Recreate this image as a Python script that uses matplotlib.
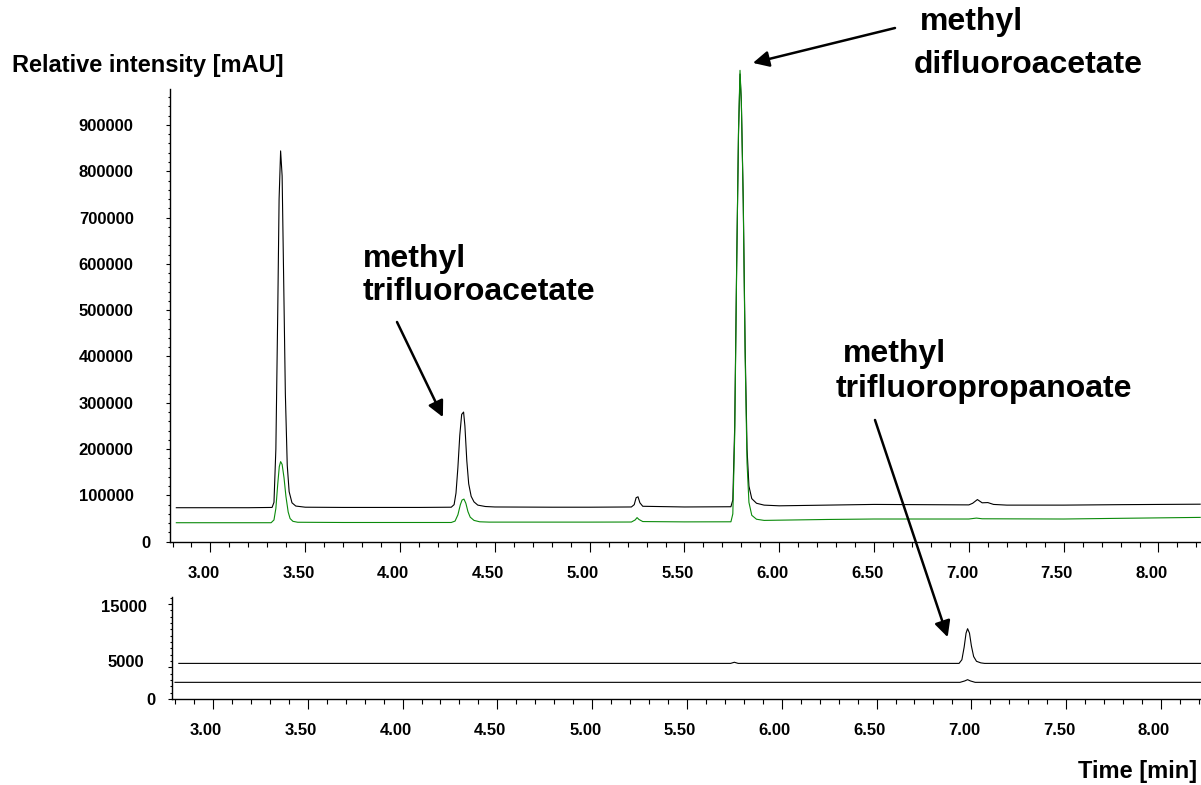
import matplotlib
matplotlib.use("Agg")
import matplotlib.pyplot as plt
from matplotlib.ticker import MultipleLocator, FixedLocator
from matplotlib.transforms import ScaledTranslation

plt.rcParams['font.family'] = ['Liberation Sans', 'DejaVu Sans']
plt.rcParams['font.weight'] = 'bold'

# upper panel, black trace (time [min], intensity [mAU])
top_black_t = [2.82, 3.00, 3.20, 3.325, 3.335, 3.345, 3.355, 3.362, 3.370, 3.378, 3.386,
               3.395, 3.405, 3.415, 3.43, 3.45, 3.50, 3.70, 3.90, 4.10, 4.27, 4.285, 4.295,
               4.305, 4.315, 4.325, 4.335, 4.342, 4.352, 4.362, 4.375, 4.39, 4.41, 4.45, 4.50,
               4.80, 5.00, 5.22, 5.235, 5.245, 5.255, 5.265, 5.28, 5.50, 5.745, 5.755, 5.765,
               5.775, 5.785, 5.793, 5.80, 5.81, 5.82, 5.83, 5.84, 5.855, 5.88, 5.92, 6.00,
               6.25, 6.50, 6.75, 7.00, 7.02, 7.045, 7.07, 7.10, 7.13, 7.20, 7.50, 7.80, 8.22]
top_black_y = [73400, 73400, 73400, 74000, 85000, 200000, 500000, 740000, 844000, 790000, 570000,
               320000, 165000, 108000, 84000, 77000, 74500, 74000, 74000, 74000, 74500, 80000, 105000,
               160000, 230000, 275000, 280000, 250000, 175000, 125000, 98000, 86000, 79000, 76000, 75000,
               74500, 74500, 75000, 80000, 95000, 97000, 84000, 76500, 75000, 75500, 90000, 250000,
               590000, 880000, 1010000, 950000, 740000, 420000, 200000, 120000, 93000, 83000, 79000, 77500,
               79000, 80500, 80000, 79500, 83000, 91000, 84000, 84500, 80500, 79000, 79000, 80000, 81000]

# upper panel, green trace
top_green_t = [2.82, 3.32, 3.335, 3.345, 3.355, 3.363, 3.370, 3.378, 3.388, 3.398, 3.41, 3.42,
               3.435, 3.46, 3.70, 4.27, 4.29, 4.305, 4.318, 4.327, 4.337, 4.347, 4.358, 4.37,
               4.39, 4.42, 4.47, 5.00, 5.22, 5.24, 5.25, 5.26, 5.28, 5.50, 5.745, 5.755, 5.765,
               5.775, 5.785, 5.793, 5.80, 5.81, 5.82, 5.83, 5.84, 5.855, 5.88, 5.92, 6.00, 6.25,
               6.50, 7.00, 7.04, 7.07, 7.50, 7.80, 8.22]
top_green_y = [41000, 41000, 47000, 72000, 125000, 162000, 173000, 167000, 138000, 98000, 64000, 50000,
               44000, 42000, 41500, 41500, 44500, 58000, 80000, 90000, 92000, 83000, 65000, 53000,
               46000, 43000, 42300, 42300, 42500, 47000, 52000, 48000, 43500, 42800, 43000, 60000, 230000,
               580000, 890000, 1018000, 950000, 730000, 400000, 170000, 85000, 57000, 48500, 46000, 46500, 48000,
               49000, 49000, 51000, 49500, 49000, 50500, 52500]

# lower panel traces
bot_upper_t = [2.82, 5.73, 5.75, 5.77, 6.935, 6.95, 6.962, 6.972, 6.98, 6.99, 7.00, 7.012,
               7.027, 7.05, 7.07, 8.22]
bot_upper_y = [5620, 5620, 5800, 5620, 5620, 6200, 8200, 10400, 11100, 10400, 8400, 6700,
               5950, 5700, 5620, 5620]
bot_lower_t = [2.80, 6.94, 6.965, 6.98, 6.995, 7.02, 8.22]
bot_lower_y = [2630, 2630, 2850, 3050, 2850, 2630, 2630]

top_yticks = [0, 100000, 200000, 300000, 400000, 500000, 600000, 700000, 800000, 900000]
bot_yticks = [0, 5000, 15000]
xticks = [3.0, 3.5, 4.0, 4.5, 5.0, 5.5, 6.0, 6.5, 7.0, 7.5, 8.0]

W, H = 1201, 785
fig = plt.figure(figsize=(W / 100, H / 100), dpi=100)


def px(x0, y0, x1, y1):
    # pixel box (left, top, right, bottom) -> figure fraction rect
    return [x0 / W, 1 - y1 / H, (x1 - x0) / W, (y1 - y0) / H]


ax1 = fig.add_axes(px(169.5, 89, 1200, 541.7))
ax2 = fig.add_axes(px(172, 597, 1202.5, 699))

ax1.plot(top_black_t, top_black_y, color='black', lw=0.8, clip_on=False, zorder=3)
ax1.plot(top_green_t, top_green_y, color='#0a8a0a', lw=0.8, clip_on=False, zorder=4)
ax2.plot(bot_upper_t, bot_upper_y, color='black', lw=0.8, clip_on=False)
ax2.plot(bot_lower_t, bot_lower_y, color='black', lw=0.8, clip_on=False)

ax1.set_ylim(0, 977700)
ax2.set_ylim(0, 16100)

for ax, yt, ymin in ((ax1, top_yticks, 20000), (ax2, bot_yticks, 1000)):
    ax.set_xlim(2.784, 8.219)
    for s in ('top', 'right'):
        ax.spines[s].set_visible(False)
    for s in ('left', 'bottom'):
        ax.spines[s].set_linewidth(1.0)
    ax.xaxis.set_major_locator(FixedLocator(xticks))
    ax.xaxis.set_minor_locator(MultipleLocator(0.1))
    ax.set_xticklabels([f'{v:.2f}' for v in xticks])
    ax.yaxis.set_major_locator(FixedLocator(yt))
    ax.yaxis.set_minor_locator(MultipleLocator(ymin))
    ax.set_yticklabels([str(v) for v in yt])
    ax.tick_params(axis='x', which='major', length=7.2, width=0.8, direction='out', pad=10,
                   labelsize=12)
    ax.tick_params(axis='x', which='minor', length=3.6, width=0.8, direction='out')
    ax.tick_params(axis='y', which='major', length=3, width=0.8, direction='out', labelsize=12)
    ax.tick_params(axis='y', which='minor', length=1.5, width=0.8, direction='out')

ax1.tick_params(axis='y', which='major', pad=22.8)
ax2.tick_params(axis='y', which='major', pad=14.9)


def shift(lab, dx, dy):
    lab.set_transform(lab.get_transform() + ScaledTranslation(dx / 100, dy / 100, fig.dpi_scale_trans))


for ax in (ax1, ax2):
    for lab in ax.get_xticklabels():
        shift(lab, -7, 0)
        lab.set_fontweight('bold')
    for lab in ax.get_yticklabels():
        lab.set_fontweight('bold')

# odd label placement of the instrument software
shift(ax1.get_yticklabels()[0], 16.4, 0)
bl = ax2.get_yticklabels()
shift(bl[0], 8.3, 0)
shift(bl[1], -3.3, 6.5)
shift(bl[2], 0, -2)

fig.text(12 / W, 1 - 72 / H, 'Relative intensity [mAU]', fontsize=17, fontweight='bold',
         ha='left', va='baseline')
fig.text(1197 / W, 1 - 778 / H, 'Time [min]', fontsize=17, fontweight='bold',
         ha='right', va='baseline')

ann = dict(fontsize=23, fontweight='bold', ha='left', va='baseline')
fig.text(920 / W, 1 - 30 / H, 'methyl', **ann)
fig.text(914 / W, 1 - 73 / H, 'difluoroacetate', **ann)
fig.text(363 / W, 1 - 267 / H, 'methyl', **ann)
fig.text(363 / W, 1 - 300 / H, 'trifluoroacetate', **ann)
fig.text(843 / W, 1 - 362 / H, 'methyl', **ann)
fig.text(836 / W, 1 - 397 / H, 'trifluoropropanoate', **ann)

arrow = dict(arrowstyle='-|>', color='black', lw=1.8, mutation_scale=24, shrinkA=0, shrinkB=0)
ax1.annotate('', xy=(5.861, 1034000), xycoords='data',
             xytext=(895 / W, 1 - 28 / H), textcoords='figure fraction',
             arrowprops=arrow, annotation_clip=False)
ax1.annotate('', xy=(4.226, 269000), xycoords='data',
             xytext=(397 / W, 1 - 322 / H), textcoords='figure fraction',
             arrowprops=arrow, annotation_clip=False)
ax2.annotate('', xy=(6.875, 9760), xycoords='data',
             xytext=(875 / W, 1 - 420 / H), textcoords='figure fraction',
             arrowprops=arrow, annotation_clip=False)

fig.savefig('out.png', dpi=100)
